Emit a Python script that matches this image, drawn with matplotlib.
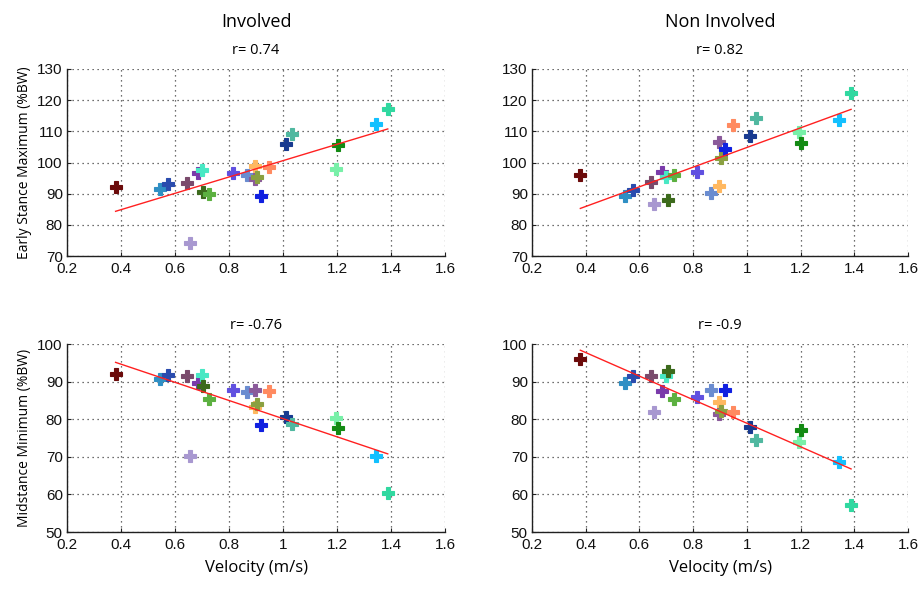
import numpy as np
import matplotlib
matplotlib.use("Agg")
import matplotlib.pyplot as plt

# Subject velocities (m/s), consistent across panels
velocity = [0.38, 0.545, 0.575, 0.643, 0.655, 0.685, 0.70, 0.705, 0.727,
            0.815, 0.867, 0.898, 0.898, 0.902, 0.92, 0.948, 1.01, 1.035,
            1.195, 1.203, 1.343, 1.388]

subject_colors = ["#6b0a0a", "#2f8fc4", "#2a4cae", "#7a4a6c", "#a898d0", "#7a3aaa",
                  "#48e8c4", "#3c6a1c", "#5cb040", "#6050e0", "#6a8cd0", "#ffb860",
                  "#8a5a9a", "#8aa040", "#1020e0", "#ff8a60", "#183a90", "#50b8a0",
                  "#78f0a8", "#138a13", "#12c0ff", "#30d8a0"]

# Early stance maximum (%BW)
esm_involved = [92.2, 91.5, 93.0, 93.3, 74.1, 96.5, 97.6, 90.4, 89.8,
                96.5, 96.0, 99.0, 94.6, 95.3, 89.4, 98.4, 105.8, 109.0,
                97.8, 105.6, 112.4, 117.2]
esm_noninvolved = [96.0, 89.4, 91.2, 93.9, 86.7, 96.8, 95.2, 88.0, 96.0,
                   97.1, 90.3, 92.6, 106.7, 101.3, 104.3, 112.0, 108.5, 114.4,
                   109.9, 106.4, 113.6, 122.2]

# Midstance minimum (%BW)
msm_involved = [92.0, 90.6, 91.7, 91.6, 70.2, 89.5, 91.7, 88.8, 85.3,
                87.7, 87.2, 83.3, 87.7, 84.0, 78.4, 87.4, 80.5, 78.7,
                80.2, 77.7, 70.2, 60.4]
msm_noninvolved = [95.9, 89.7, 91.5, 91.5, 82.0, 87.5, 91.6, 92.9, 85.5,
                   85.8, 87.8, 84.6, 81.4, 82.2, 87.8, 82.0, 78.0, 74.6,
                   74.0, 77.1, 68.7, 57.1]

col_titles = ["Involved", "Non Involved"]
r_labels = [["r= 0.74", "r= 0.82"], ["r= -0.76", "r= -0.9"]]
row_ylabels = ["Early Stance Maximum (%BW)", "Midstance Minimum (%BW)"]
row_ylims = [(70, 130), (50, 100)]
row_yticks = [[70, 80, 90, 100, 110, 120, 130], [50, 60, 70, 80, 90, 100]]
xticks = [0.2, 0.4, 0.6, 0.8, 1.0, 1.2, 1.4, 1.6]
xtick_labels = ["0.2", "0.4", "0.6", "0.8", "1", "1.2", "1.4", "1.6"]

panels = [[esm_involved, esm_noninvolved], [msm_involved, msm_noninvolved]]

fig = plt.figure(figsize=(9.21, 5.92), dpi=100)
tick_font = "Liberation Sans"
label_font = "Open Sans"

lefts = [67 / 921, 532 / 921]
widths = [378 / 921, 376 / 921]
bottoms = [1 - 256 / 592, 1 - 532 / 592]
heights = [187 / 592, 188 / 592]

x = np.array(velocity)
for r in range(2):
    for c in range(2):
        ax = fig.add_axes([lefts[c], bottoms[r], widths[c], heights[r]])
        y = np.array(panels[r][c])
        for xi, yi, col in zip(x, y, subject_colors):
            ax.plot(xi, yi, marker="P", ms=8.5, mew=0.8, mec=col, color=col,
                    linestyle="none", zorder=3)
        k, b = np.polyfit(x, y, 1)
        xs = np.array([x.min(), x.max()])
        ax.plot(xs, k * xs + b, color="#ff2020", lw=1.0, zorder=4)
        ax.set_xlim(0.2, 1.6)
        ax.set_ylim(*row_ylims[r])
        ax.set_xticks(xticks)
        ax.set_xticklabels(xtick_labels)
        ax.set_yticks(row_yticks[r])
        ax.grid(True, linestyle=(0, (1, 3)), color="#404040", lw=0.9)
        ax.set_axisbelow(True)
        for s in ["top", "right"]:
            ax.spines[s].set_visible(False)
        for s in ["left", "bottom"]:
            ax.spines[s].set_color("#202020")
            ax.spines[s].set_linewidth(1.0)
        ax.tick_params(direction="in", length=3, width=0.8, colors="#202020",
                       labelsize=11, labelcolor="#111111")
        ax.tick_params(axis="x", pad=4)
        ax.tick_params(axis="y", pad=3)
        for lab in ax.get_xticklabels() + ax.get_yticklabels():
            lab.set_fontfamily(tick_font)
        ax.set_title(r_labels[r][c], fontsize=10.5, fontfamily=label_font, pad=11)
        if c == 0:
            ax.set_ylabel(row_ylabels[r], fontsize=10, fontfamily=label_font, labelpad=4)
        if r == 1:
            ax.set_xlabel("Velocity (m/s)", fontsize=12, fontfamily=label_font, labelpad=6)
        if r == 0:
            ax.text(0.5, 1.0 + 38 / 187, col_titles[c], transform=ax.transAxes,
                    ha="center", va="bottom", fontsize=13, fontfamily=label_font)

fig.savefig("out.png", dpi=100, facecolor="white")
